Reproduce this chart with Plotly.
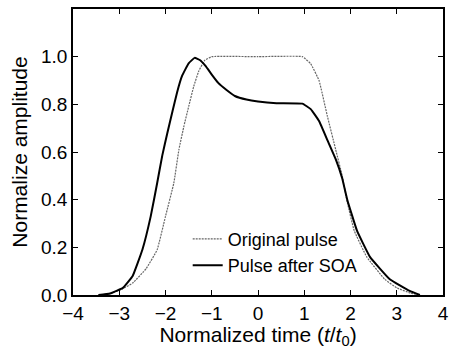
import plotly.graph_objects as go

# Original pulse (dotted)
orig_t = [-3.45, -3.2, -2.92, -2.71, -2.42, -2.18, -2.0, -1.82, -1.71, -1.6, -1.5, -1.39, -1.28, -1.15,
          -1.0, 0.0, 0.96, 1.14, 1.32, 1.5, 1.68, 1.82, 1.93, 2.08, 2.35, 2.74, 3.0, 3.3, 3.5]
orig_v = [0.0, 0.005, 0.027, 0.05, 0.11, 0.19, 0.33, 0.47, 0.61, 0.71, 0.79, 0.875, 0.94, 0.985,
          1.0, 1.0, 1.0, 0.97, 0.90, 0.75, 0.61, 0.50, 0.39, 0.27, 0.16, 0.066, 0.03, 0.008, 0.0]

# Pulse after SOA (solid)
soa_t = [-3.45, -3.2, -2.92, -2.71, -2.5, -2.32, -2.18, -2.07, -1.96, -1.85, -1.75, -1.64, -1.5, -1.37,
         -1.25, -1.14, -1.0, -0.86, -0.68, -0.5, -0.25, 0.0, 0.4, 0.96, 1.14, 1.32, 1.5, 1.68, 1.82,
         1.93, 2.14, 2.42, 2.85, 3.28, 3.5]
soa_v = [0.0, 0.006, 0.03, 0.08, 0.19, 0.33, 0.47, 0.585, 0.68, 0.77, 0.85, 0.92, 0.972, 0.995,
         0.985, 0.962, 0.925, 0.89, 0.86, 0.835, 0.82, 0.812, 0.805, 0.803, 0.78, 0.73, 0.65, 0.57, 0.49,
         0.40, 0.27, 0.16, 0.066, 0.017, 0.0]

x_ticks = [-4, -3, -2, -1, 0, 1, 2, 3, 4]
y_ticks = [0.0, 0.2, 0.4, 0.6, 0.8, 1.0]
y_tick_text = ["0.0", "0.2", "0.4", "0.6", "0.8", "1.0"]

FONT = "Liberation Sans"

fig = go.Figure()
fig.add_trace(go.Scatter(x=orig_t, y=orig_v, mode="lines", name="Original pulse",
                         line=dict(color="#666666", width=1.2, dash="2px,1px", shape="spline", smoothing=0.3)))
fig.add_trace(go.Scatter(x=soa_t, y=soa_v, mode="lines", name="Pulse after SOA",
                         line=dict(color="black", width=2, shape="spline", smoothing=0.3)))

axis_common = dict(showline=True, linecolor="black", linewidth=1.5, mirror="allticks",
                   ticks="inside", ticklen=5, tickwidth=1, tickcolor="black",
                   showgrid=False, zeroline=False, automargin=False,
                   ticklabeloverflow="allow",
                   tickfont=dict(family=FONT, size=19, color="black"))

fig.update_xaxes(range=[-4, 4], tickvals=x_ticks, **axis_common,
                 title=dict(text="Normalized time (<i>t</i>/<i>t</i><sub>0</sub>)",
                            font=dict(family=FONT, size=21, color="black"), standoff=10))
fig.update_yaxes(range=[0, 1.2], tickvals=y_ticks, ticktext=y_tick_text, **axis_common,
                 title=dict(text="Normalize amplitude",
                            font=dict(family=FONT, size=21, color="black"), standoff=8))

fig.update_layout(
    width=452, height=349,
    margin=dict(l=73, r=9, t=9, b=54),
    plot_bgcolor="white", paper_bgcolor="white",
    showlegend=True,
    legend=dict(x=0.31, y=0.26, xanchor="left", yanchor="top",
                bgcolor="rgba(0,0,0,0)", itemwidth=30, tracegroupgap=0,
                font=dict(family=FONT, size=18, color="black")),
)

fig.write_html("out.html")
